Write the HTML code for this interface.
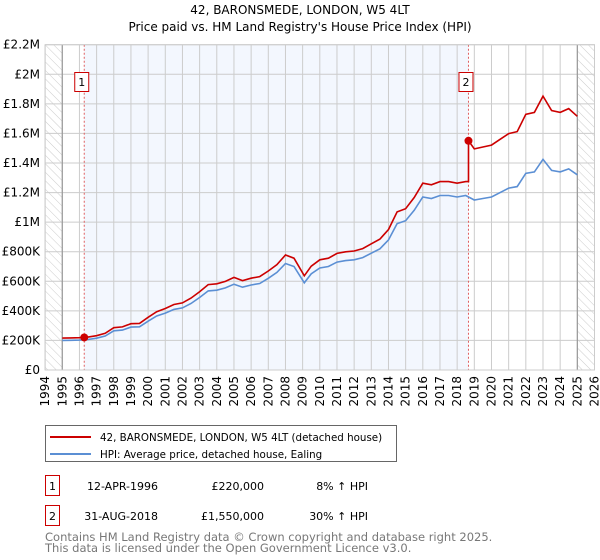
<!DOCTYPE html>
<html><head><meta charset="utf-8"><style>
body{margin:0;background:#fff;font-family:"DejaVu Sans","Liberation Sans",sans-serif;}
#wrap{position:relative;width:600px;height:560px;overflow:hidden}
</style></head><body><div id="wrap">
<svg id="chart" width="600" height="420" style="position:absolute;left:0;top:0">
<defs><pattern id="hatch" width="6" height="6" patternUnits="userSpaceOnUse" patternTransform="rotate(-45)"><line x1="0" y1="0" x2="0" y2="6" stroke="#ccc" stroke-width="1"/></pattern></defs>
<text x="300" y="14" text-anchor="middle" font-size="12" fill="#000">42, BARONSMEDE, LONDON, W5 4LT</text>
<text x="300" y="31" text-anchor="middle" font-size="12" fill="#000">Price paid vs. HM Land Registry's House Price Index (HPI)</text>
<g id="plot"></g>
</svg>
<svg width="600" height="140" style="position:absolute;left:0;top:420">
<rect x="45.5" y="5.5" width="351" height="36" fill="#fff" stroke="#666"/>
<line x1="50" y1="17" x2="91" y2="17" stroke="#cc0000" stroke-width="2"/>
<text x="100" y="21" font-size="10.3">42, BARONSMEDE, LONDON, W5 4LT (detached house)</text>
<line x1="50" y1="34" x2="91" y2="34" stroke="#5b8fd4" stroke-width="2"/>
<text x="100" y="38" font-size="10.3">HPI: Average price, detached house, Ealing</text>
<rect x="45.5" y="55.5" width="14" height="20" fill="#fff" stroke="#cc0000"/>
<text x="52.5" y="70" font-size="11" text-anchor="middle">1</text>
<text x="158" y="70" font-size="11" text-anchor="end">12-APR-1996</text>
<text x="264" y="70" font-size="11" text-anchor="end">£220,000</text>
<text x="368" y="70" font-size="11" text-anchor="end">8% ↑ HPI</text>
<rect x="45.5" y="85.5" width="14" height="20" fill="#fff" stroke="#cc0000"/>
<text x="52.5" y="100" font-size="11" text-anchor="middle">2</text>
<text x="158" y="100" font-size="11" text-anchor="end">31-AUG-2018</text>
<text x="264" y="100" font-size="11" text-anchor="end">£1,550,000</text>
<text x="368" y="100" font-size="11" text-anchor="end">30% ↑ HPI</text>
<text x="45" y="121" font-size="11.5" fill="#777">Contains HM Land Registry data © Crown copyright and database right 2025.</text>
<text x="45" y="132" font-size="11.5" fill="#777">This data is licensed under the Open Government Licence v3.0.</text>
</svg>
</div>
<script>
const hpiYears=[1995,1995.5,1996,1996.5,1997,1997.5,1998,1998.5,1999,1999.5,2000,2000.5,2001,2001.5,2002,2002.5,2003,2003.5,2004,2004.5,2005,2005.5,2006,2006.5,2007,2007.5,2008,2008.5,2009.1,2009.5,2010,2010.5,2011,2011.5,2012,2012.5,2013,2013.5,2014,2014.5,2015,2015.5,2016,2016.5,2017,2017.5,2018,2018.5,2019,2019.5,2020,2020.5,2021,2021.5,2022,2022.5,2023,2023.5,2024,2024.5,2025];
const hpiValues=[200000,201000,202000,206000,215000,230000,265000,270000,290000,292000,330000,365000,385000,410000,420000,450000,490000,535000,540000,555000,580000,560000,575000,585000,620000,660000,720000,700000,590000,650000,690000,700000,730000,740000,745000,760000,790000,820000,880000,990000,1010000,1080000,1170000,1160000,1180000,1180000,1170000,1180000,1150000,1160000,1170000,1200000,1230000,1240000,1330000,1340000,1425000,1350000,1340000,1360000,1320000];
const saleYears=[1996.28,2018.66];
const salePrices=[220000,1550000];
const saleRatios=[1.08,1.30];
const yTicks=[0,200000,400000,600000,800000,1000000,1200000,1400000,1600000,1800000,2000000,2200000];
const yTickLabels=["£0","£200K","£400K","£600K","£800K","£1M","£1.2M","£1.4M","£1.6M","£1.8M","£2M","£2.2M"];
const xTicks=[1994,1995,1996,1997,1998,1999,2000,2001,2002,2003,2004,2005,2006,2007,2008,2009,2010,2011,2012,2013,2014,2015,2016,2017,2018,2019,2020,2021,2022,2023,2024,2025,2026];

const X0=45.1,X1=594.5,Y0=370,Y1=44.7;
const x=v=>X0+(v-1994)/(2026-1994)*(X1-X0);
const y=v=>Y0-(v/2200000)*(Y0-Y1);
const NS="http://www.w3.org/2000/svg";
const g=document.getElementById('plot');
function mk(t,a){const e=document.createElementNS(NS,t);for(const k in a)e.setAttribute(k,a[k]);g.appendChild(e);return e;}

let e=mk('rect',{x:x(saleYears[0]),y:Y1,width:x(saleYears[1])-x(saleYears[0]),height:Y0-Y1,fill:'#f3f7fe'});


e=mk('rect',{x:X0,y:Y1,width:x(1995)-X0,height:Y0-Y1,fill:'url(#hatch)'});


e=mk('rect',{x:x(2025),y:Y1,width:X1-x(2025),height:Y0-Y1,fill:'url(#hatch)'});



yTicks.forEach((t,i)=>{
 let l=mk('line',{x1:X0,x2:X1,y1:y(t),y2:y(t),stroke:'#ccc','stroke-width':1});
 
 
 let tx=mk('text',{x:40,y:y(t)+4,'text-anchor':'end','font-size':12,fill:'#000'});
 tx.textContent=yTickLabels[i];
 
 
});
xTicks.forEach(t=>{
 let l=mk('line',{x1:x(t),x2:x(t),y1:Y1,y2:Y0,stroke:'#ccc','stroke-width':1});
 
 
 let tx=mk('text',{x:0,y:0,'text-anchor':'end','font-size':12,fill:'#000',transform:`translate(${x(t)+4},376) rotate(-90)`});
 tx.textContent=t;
 
 
});
e=mk('line',{x1:x(1995),x2:x(1995),y1:Y1,y2:Y0,stroke:'#999','stroke-width':1.2});


e=mk('line',{x1:x(2025),x2:x(2025),y1:Y1,y2:Y0,stroke:'#999','stroke-width':1.2});



saleYears.forEach((s,i)=>{
 let l=mk('line',{x1:x(s),x2:x(s),y1:Y1,y2:Y0,stroke:'#e06060','stroke-width':1,'stroke-dasharray':'2,2'});
 
 
});

let hp=hpiYears.map((v,i)=>x(v).toFixed(1)+','+y(hpiValues[i]).toFixed(1)).join(' ');
e=mk('polyline',{points:hp,fill:'none',stroke:'#5b8fd4','stroke-width':1.6});


let rp=hpiYears.map((v,i)=>{const r=v<saleYears[1]?saleRatios[0]:saleRatios[1];return x(v).toFixed(1)+','+y(hpiValues[i]*r).toFixed(1);});
const idx=hpiYears.findIndex(v=>v>=saleYears[1]);
rp.splice(idx,0,x(saleYears[1]).toFixed(1)+','+y(1180000*saleRatios[0]).toFixed(1),x(saleYears[1]).toFixed(1)+','+y(salePrices[1]).toFixed(1));
e=mk('polyline',{points:rp.join(' '),fill:'none',stroke:'#cc0000','stroke-width':1.6});



saleYears.forEach((s,i)=>{
 let c=mk('circle',{cx:x(s),cy:y(salePrices[i]),r:4,fill:'#cc0000'});
 
 
 let bx=x(s)-10, by=72;
 let r=mk('rect',{x:bx+0.5,y:by+0.5,width:14,height:19,fill:'#fff',stroke:'#cc0000'});
 
 
 let t=mk('text',{x:bx+7.5,y:by+14,'text-anchor':'middle','font-size':11});
 t.textContent=String(i+1);
 
 
});
e=mk('rect',{x:X0,y:Y1,width:X1-X0,height:Y0-Y1,fill:'none',stroke:'#ccc'});


</script></body></html>
